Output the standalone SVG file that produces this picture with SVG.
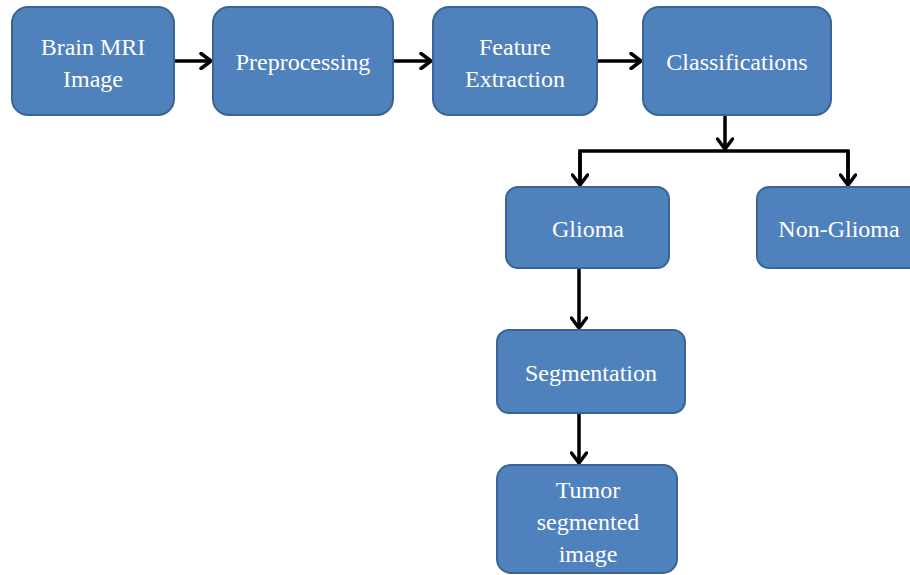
<svg xmlns="http://www.w3.org/2000/svg" width="910" height="575" viewBox="0 0 910 575">
<style>
.box{fill:#4F81BD;stroke:#3A6494;stroke-width:2}
.t{font-family:"Liberation Serif","DejaVu Serif",serif;font-size:24px;fill:#fff;text-anchor:middle}
.c{fill:none;stroke:#000;stroke-width:3.5}
</style>
<defs>
<marker id="ah" viewBox="0 0 14 18" refX="12" refY="9" markerWidth="14" markerHeight="18" markerUnits="userSpaceOnUse" orient="auto">
<path d="M2,1.5 L12,9 L2,16.5" fill="none" stroke="#000" stroke-width="3.5" stroke-linecap="round" stroke-linejoin="miter"/>
</marker>
</defs>
<rect width="910" height="575" fill="#fff"/>
<g id="connectors">
<line class="c" x1="175" y1="61" x2="211" y2="61" marker-end="url(#ah)"/>
<line class="c" x1="393" y1="61" x2="431" y2="61" marker-end="url(#ah)"/>
<line class="c" x1="597" y1="61" x2="641" y2="61" marker-end="url(#ah)"/>
<line class="c" x1="725" y1="115" x2="725" y2="149" marker-end="url(#ah)"/>
<polyline class="c" points="580,185 580,151 848,151 848,185"/>
<line class="c" x1="580" y1="151" x2="580" y2="185" marker-end="url(#ah)"/>
<line class="c" x1="848" y1="151" x2="848" y2="185" marker-end="url(#ah)"/>
<line class="c" x1="579" y1="268" x2="579" y2="328" marker-end="url(#ah)"/>
<line class="c" x1="579" y1="413" x2="579" y2="463" marker-end="url(#ah)"/>
</g>
<g id="brain-mri">
<rect class="box" x="12" y="7" width="162" height="108" rx="16"/>
<text class="t" x="93" y="55">Brain MRI</text>
<text class="t" x="93" y="87">Image</text>
</g>
<g id="preprocessing">
<rect class="box" x="213" y="7" width="180" height="108" rx="16"/>
<text class="t" x="303" y="70">Preprocessing</text>
</g>
<g id="feature-extraction">
<rect class="box" x="433" y="7" width="164" height="108" rx="16"/>
<text class="t" x="515" y="55">Feature</text>
<text class="t" x="515" y="87">Extraction</text>
</g>
<g id="classifications">
<rect class="box" x="643" y="7" width="188" height="108" rx="16"/>
<text class="t" x="737" y="70">Classifications</text>
</g>
<g id="glioma">
<rect class="box" x="506" y="187" width="163" height="81" rx="12"/>
<text class="t" x="588" y="237">Glioma</text>
</g>
<g id="non-glioma">
<rect class="box" x="757" y="187" width="165" height="81" rx="12"/>
<text class="t" x="839" y="237">Non-Glioma</text>
</g>
<g id="segmentation">
<rect class="box" x="497" y="330" width="188" height="83" rx="12"/>
<text class="t" x="591" y="381">Segmentation</text>
</g>
<g id="tumor">
<rect class="box" x="497" y="465" width="180" height="108" rx="14"/>
<text class="t" x="588" y="498">Tumor</text>
<text class="t" x="588" y="530">segmented</text>
<text class="t" x="588" y="562">image</text>
</g>
</svg>
